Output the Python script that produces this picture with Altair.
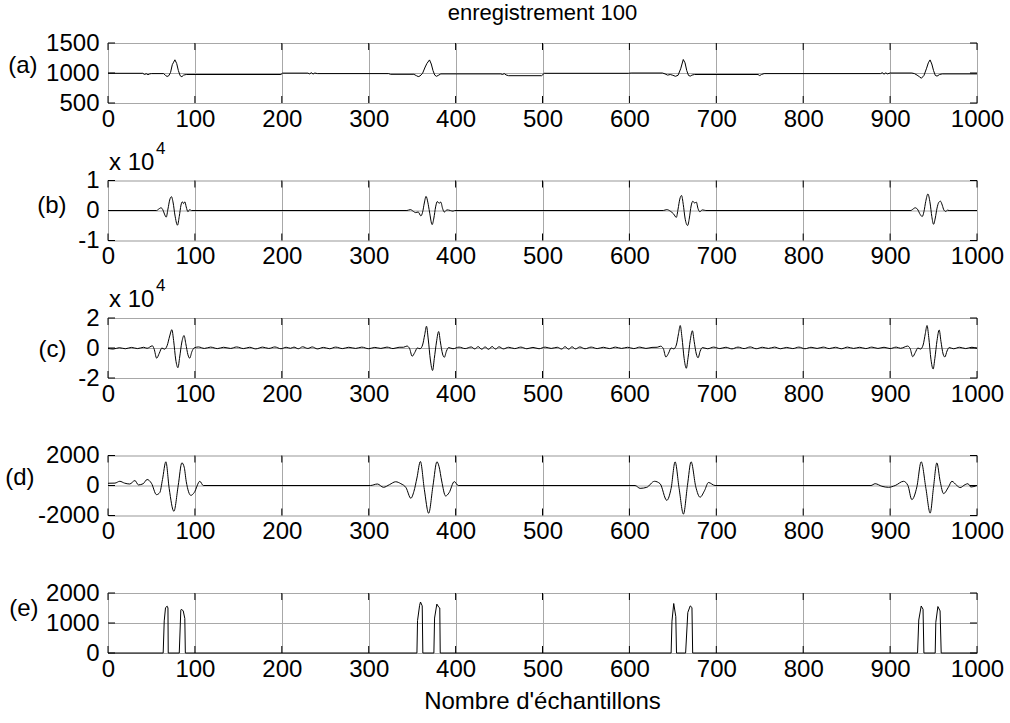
import altair as alt
import pandas as pd

FONT = "Liberation Sans"
FS = 24
W, H = 869, 60
GRID_GRAY = "#a8a8a8"
TICK_LEN = 7

SAMPLE_TICKS = list(range(0, 1001, 100))

# (a) raw ECG, ADC units
A_TRACE = [
    (0, 995), (40, 995), (42, 975), (44, 988), (46, 972), (48, 985), (50, 990),
    (64, 990), (66, 962), (68, 942), (70, 955), (72, 1010), (74, 1139), (75.5, 1180), (77, 1220),
    (79, 1160), (81, 1040), (83, 955), (85, 938), (87, 965), (90, 975),
    (199, 975), (201, 998), (230, 998), (232, 985), (234, 1005), (236, 982), (238, 1000), (241, 990),
    (323, 990), (325, 978), (352, 978), (355, 955), (357, 940), (359, 950), (362, 995),
    (365, 1100), (367, 1160), (370, 1218), (372, 1150), (374, 1040), (376, 965), (378, 945),
    (380, 960), (383, 985),
    (452, 985), (454, 975), (456, 990), (458, 968), (461, 955), (499, 955), (502, 995),
    (599, 995), (602, 1000), (638, 1000), (641, 985), (644, 965), (647, 975), (650, 962),
    (653, 945), (656, 962), (659, 1070), (662, 1225), (664, 1170), (666, 1040), (668, 960),
    (670, 948), (672, 965), (675, 975),
    (748, 975), (750, 958), (752, 975), (755, 990),
    (889, 990), (891, 1005), (893, 980), (895, 1002), (897, 985), (900, 1000),
    (925, 1000), (928, 990), (931, 965), (934, 935), (936, 912), (939, 960), (942, 1080),
    (944, 1170), (946, 1218), (948, 1150), (950, 1040), (952, 960), (954, 948), (957, 975),
    (960, 985), (1000, 985),
]

# (b) first filtered signal
B_TRACE = [
    (0, 0), (56, 0), (58, 400), (61, 900), (63, 300), (65, -1200), (67, -2200), (69, 500),
    (71, 3500), (73, 4600), (75, 2500), (77, -1500), (80, -4900), (82, -2000), (84, 1800),
    (85.5, 2900), (87, 2300), (88.5, 2900), (90, 1200), (92, -400), (94, 300), (96, 0),
    (344, 0), (348, 300), (351, -200), (354, -700), (357, -500), (360, -1800), (362, -600),
    (364, 2500), (366, 4700), (368, 2800), (370, -500), (373, -4700), (375, -2500), (377, 1200),
    (379, 3000), (381, 2400), (383, 2800), (385, 700), (387, -500), (390, 200), (394, 0),
    (397, -200), (399, 0),
    (639, 0), (643, 300), (647, -200), (651, -1200), (654, -2300), (656, 500), (658, 3800),
    (660, 5000), (662, 2000), (664, -2500), (667, -5000), (669, -2500), (671, 1500), (673, 3100),
    (675, 2500), (677, 2800), (679, 600), (681, -400), (684, 200), (688, 0),
    (924, 0), (926, 400), (929, 900), (932, 200), (934, -1000), (937, -2000), (939, -300),
    (941, 3000), (943.5, 5500), (946, 2500), (948, -2000), (950, -4600), (952, -2500), (954, 800),
    (956, 2700), (958, 3100), (960, 1800), (962, 100), (964, -300), (966, 100), (968, 0),
    (1000, 0),
]

# (c) second filtered signal
C_TRACE = [
    (0, -300), (6, -700), (13, 200), (20, -500), (27, 400), (34, -400), (41, 500), (45, -200),
    (48, 600), (51, 1500), (53, -500), (56, -6800), (59, -3500), (62, 0), (65, -800), (68, 1500),
    (71, 8000), (73.5, 12200), (75.5, 5000), (78, -8000), (80.5, -13100), (82.5, -6000),
    (85, 4000), (87.5, 8300), (89.5, 3000), (92, -4500), (94, -6800), (96.5, -2500), (99, 0),
    (104, 700), (111, -300), (118, 600), (126, -400), (133, 500), (141, -300), (148, 700),
    (156, -400), (163, 500), (170, -600), (178, 600), (185, -300), (192, 700), (199, -500),
    (205, 500), (210, -200), (214, 600), (219, -500), (224, 800), (230, -300), (235, 700),
    (241, -600), (248, 400), (255, -500), (262, 600), (270, -400), (277, 500), (285, -300),
    (292, 600), (300, -500), (307, 400), (314, -300), (321, 600), (328, -400), (335, 500),
    (340, 500), (344, 1300), (347, -300), (350, -5500), (353, -3000), (356, 0), (359, -500),
    (362, 2000), (364.5, 9000), (366.5, 14500), (368.5, 6000), (371, -8000), (373.5, -15000),
    (375.5, -7000), (378, 4000), (380.5, 11000), (382.5, 4000), (385, -4000), (387, -6200),
    (389.5, -2000), (392, 300),
    (397, -500), (404, 600), (411, -400), (418, 700), (422, -600), (426, 900), (430, -800),
    (434, 700), (438, -900), (442, 1000), (446, -700), (450, 800), (455, -600), (461, 500),
    (468, -400), (475, 600), (482, -500), (489, 400), (496, -500), (503, 600), (510, -300),
    (517, 500), (522, -700), (526, 900), (530, -800), (534, 800), (538, -600), (543, 700),
    (549, -500), (556, 600), (563, -400), (570, 500), (577, -400), (584, 600), (591, -300),
    (598, 500), (605, -400), (612, 600), (619, -300), (626, 400),
    (632, 500), (636, 1200), (639, -400), (642, -6000), (645, -3500), (648, 0), (651, -600),
    (654, 2000), (656.5, 9500), (658.5, 15000), (660.5, 7000), (663, -7000), (665.5, -13500),
    (667.5, -6500), (670, 5000), (672.5, 11500), (674.5, 4500), (677, -4000), (679, -6500),
    (681.5, -2000), (684, 300),
    (690, -500), (697, 600), (704, -400), (711, 500), (718, -600), (725, 600), (732, -400),
    (739, 700), (746, -500), (753, 500), (760, -300), (767, 600), (774, -500), (781, 400),
    (788, -400), (795, 600), (802, -500), (809, 500), (816, -300), (823, 600), (830, -400),
    (837, 500), (844, -500), (851, 600), (858, -300), (865, 500), (872, -400), (879, 600),
    (886, -300), (893, 500), (900, -400), (907, 600), (912, -200),
    (916, 500), (920, 1300), (923, -300), (926, -5800), (929, -3000), (932, 0), (935, -700),
    (938, 2000), (940.5, 9500), (942.5, 15000), (944.5, 7000), (947, -7500), (949.5, -14000),
    (951.5, -7000), (954, 5000), (956.5, 12000), (958.5, 4500), (961, -4000), (963, -6000),
    (965.5, -2000), (968, 300),
    (973, -500), (980, 500), (987, -400), (994, 500), (1000, -200),
]

# (d) third filtered signal
D_TRACE = [
    (0, 150), (8, 160), (13.6, 280), (19, 160), (25, 100), (31, 330), (35, 40), (40.5, 120),
    (45, 400), (50, 150), (55.8, -610), (59.6, -470), (62.7, 400), (66.6, 1580), (70.4, -190),
    (75.8, -1720), (80.8, 0), (85, 1510), (87.7, 1220), (90, 280), (95.4, -660), (99.2, -470),
    (105.7, 280), (109.6, 0),
    (302, 0), (310, 100), (317, -120), (324, 60), (331, 250), (337, 120), (343, -150),
    (348.5, -850), (352, -400), (355.5, 500), (359.5, 1600), (364, -250), (369, -1850),
    (374, 0), (378.5, 1580), (381, 1250), (384, 300), (388.5, -700), (392.5, -480),
    (398.5, 260), (403, 0),
    (606.5, 0), (612.3, -190), (620, -120), (628.8, 280), (635.3, 120), (643, -990),
    (648, -190), (652.6, 1580), (657.2, -190), (662.2, -1910), (666.8, 0), (671, 1580),
    (676.4, -90), (681.3, -780), (686.4, -350), (691, 200), (698.6, 0),
    (878, 0), (882.8, 120), (890.5, -50), (898.2, -120), (905.9, 0), (915.5, 280), (920.5, 0),
    (925, -940), (930.8, -90), (935.8, 1580), (941.2, -190), (946.1, -1840), (950, -90),
    (953.8, 1510), (957.6, 280), (961.5, -540), (967.3, -90), (971.1, 280), (976.8, 0),
    (980.6, -140), (986.4, 60), (989.5, 120), (993, -100), (1000, 0),
]

# (e) thresholded detection signal
E_TRACE = [
    (0, 0), (63.5, 0), (64.7, 1070), (66.2, 1510), (68.1, 1560), (69.0, 1500), (69.3, 0),
    (82, 0), (83.8, 1430), (84.6, 1460), (86.6, 1400), (88.4, 1150), (89.0, 0),
    (355.5, 0), (356.2, 1080), (358.6, 1590), (359.6, 1700), (361.6, 1570), (362.3, 0),
    (375, 0), (375.8, 1165), (378.4, 1630), (380.8, 1520), (381.8, 1500), (382.3, 0),
    (648, 0), (649, 1060), (651, 1650), (653.4, 1210), (654.2, 0),
    (664.7, 0), (667.2, 1350), (670, 1570), (672, 1516), (672.8, 0),
    (931.6, 0), (933, 1100), (935.8, 1567), (937.9, 1459), (938.9, 0),
    (951.9, 0), (952.6, 1020), (955, 1548), (957.5, 1404), (958.8, 0), (1000, 0),
]

PANELS = [
    dict(trace=A_TRACE, domain=[500, 1500], ticks=[500, 1000, 1500], tag="(a)",
         tag_x=-71, tag_y=22, expr="'' + datum.value", smooth=False),
    dict(trace=B_TRACE, domain=[-10000, 10000], ticks=[-10000, 0, 10000], tag="(b)",
         tag_x=-42, tag_y=25, expr="'' + datum.value / 10000", smooth=True, power=True),
    dict(trace=C_TRACE, domain=[-20000, 20000], ticks=[-20000, 0, 20000], tag="(c)",
         tag_x=-42, tag_y=31, expr="'' + datum.value / 10000", smooth=True, power=True),
    dict(trace=D_TRACE, domain=[-2000, 2000], ticks=[-2000, 0, 2000], tag="(d)",
         tag_x=-74, tag_y=22, expr="'' + datum.value", smooth=True),
    dict(trace=E_TRACE, domain=[0, 2000], ticks=[0, 1000, 2000], tag="(e)",
         tag_x=-70, tag_y=15, expr="'' + datum.value", smooth=False),
]


def text_layer(text, x, y, size=FS, align="left"):
    return alt.Chart(pd.DataFrame({"t": [text]})).mark_text(
        font=FONT, fontSize=size, color="black", align=align, baseline="middle"
    ).encode(text="t:N", x=alt.value(x), y=alt.value(y))


def make_panel(cfg, heading=None, x_title=None):
    trace = pd.DataFrame(cfg["trace"], columns=["n", "v"])
    x_scale = alt.Scale(domain=[0, 1000], nice=False, zero=False)
    y_scale = alt.Scale(domain=cfg["domain"], nice=False, zero=False)

    x_axis = alt.Axis(
        values=SAMPLE_TICKS, grid=True, gridColor=GRID_GRAY, gridWidth=1,
        ticks=False, tickSize=0, domain=False, labelFont=FONT, labelFontSize=FS,
        labelColor="black", labelPadding=4, labelFlush=False, labelOverlap=False,
        labelExpr="'' + datum.value",
    )
    y_axis = alt.Axis(
        values=cfg["ticks"], grid=True, gridColor=GRID_GRAY, gridWidth=1,
        ticks=False, tickSize=0, domain=False, labelFont=FONT, labelFontSize=FS,
        labelColor="black", labelPadding=9, labelFlush=False, labelOverlap=False,
        labelExpr=cfg["expr"], titleAngle=0, titleAlign="right", titleBaseline="middle",
        titleX=cfg["tag_x"], titleY=cfg["tag_y"], titleFont=FONT, titleFontSize=FS,
        titleFontWeight="normal", titleColor="black",
    )
    x_enc = alt.X("n:Q", scale=x_scale, axis=x_axis, title=None)
    y_enc = alt.Y("v:Q", scale=y_scale, axis=y_axis, title=cfg["tag"])

    line = alt.Chart(trace).mark_line(
        color="black", strokeWidth=1, interpolate="monotone" if cfg["smooth"] else "linear"
    ).encode(x=x_enc, y=y_enc, order="n:Q")

    # inward tick marks on all four sides, MATLAB style
    xt = pd.DataFrame({"n": SAMPLE_TICKS})
    yt = pd.DataFrame({"v": cfg["ticks"]})
    rule = dict(color="black", strokeWidth=1)
    top_ticks = alt.Chart(xt).mark_rule(**rule).encode(
        x=x_enc, y=alt.value(0), y2=alt.value(TICK_LEN))
    bottom_ticks = alt.Chart(xt).mark_rule(**rule).encode(
        x=x_enc, y=alt.value(H - TICK_LEN), y2=alt.value(H))
    left_ticks = alt.Chart(yt).mark_rule(**rule).encode(
        y=y_enc, x=alt.value(0), x2=alt.value(TICK_LEN))
    right_ticks = alt.Chart(yt).mark_rule(**rule).encode(
        y=y_enc, x=alt.value(W - TICK_LEN), x2=alt.value(W))

    layers = [line, top_ticks, bottom_ticks, left_ticks, right_ticks]
    if cfg.get("power"):
        layers.append(text_layer("x 10", 1, -18))
        layers.append(text_layer("4", 48, -32, size=17))
    if heading:
        layers.append(text_layer(heading, W / 2, -30, size=22, align="center"))
    if x_title:
        layers.append(text_layer(x_title, W / 2, H + 49, align="center"))
    return alt.layer(*layers).properties(width=W, height=H)


panels = []
for i, cfg in enumerate(PANELS):
    panels.append(make_panel(
        cfg,
        heading="enregistrement 100" if i == 0 else None,
        x_title="Nombre d'échantillons" if i == len(PANELS) - 1 else None,
    ))

chart = alt.vconcat(*panels, spacing=77.5, bounds="flush").properties(
    padding={"left": 4, "top": 1, "right": 4, "bottom": 4},
    background="white",
).configure_view(stroke="black", strokeWidth=1).configure(font=FONT)

chart.save("out.html", embed_options={"renderer": "svg", "actions": False})
